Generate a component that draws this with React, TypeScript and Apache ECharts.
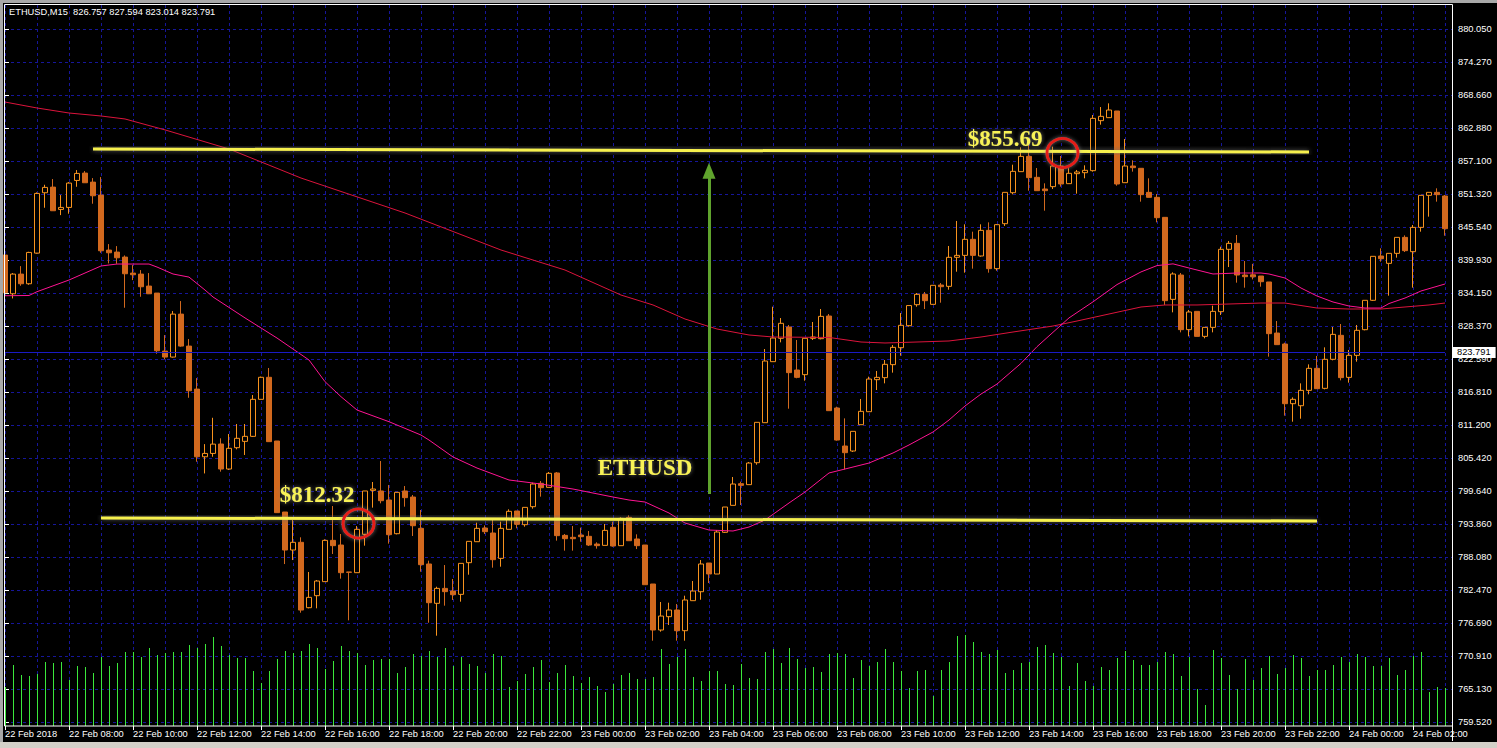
import React, { useEffect, useRef } from "react";
import * as echarts from "echarts";

// ---------- data ----------
const HEADER_TEXT = "ETHUSD,M15  826.757 827.594 823.014 823.791";
const START_TIME = Date.UTC(2018, 1, 22, 6, 0);
const BAR_MINUTES = 15;

const X_TICK_LABELS = [
  "22 Feb 2018", "22 Feb 08:00", "22 Feb 10:00", "22 Feb 12:00", "22 Feb 14:00",
  "22 Feb 16:00", "22 Feb 18:00", "22 Feb 20:00", "22 Feb 22:00", "23 Feb 00:00",
  "23 Feb 02:00", "23 Feb 04:00", "23 Feb 06:00", "23 Feb 08:00", "23 Feb 10:00",
  "23 Feb 12:00", "23 Feb 14:00", "23 Feb 16:00", "23 Feb 18:00", "23 Feb 20:00",
  "23 Feb 22:00", "24 Feb 00:00", "24 Feb 02:00",
];

// bottom to top
const Y_TICK_LABELS = [
  "759.520", "765.130", "770.910", "776.690", "782.470", "788.080", "793.860",
  "799.640", "805.420", "811.200", "816.810", "822.590", "828.370", "834.150",
  "839.930", "845.540", "851.320", "857.100", "862.880", "868.660", "874.270",
  "880.050",
];

// [open, close, low, high]
const OHLC: [number, number, number, number][] = [
  [840.73, 834.18, 833.8, 841.5], [834.0, 837.42, 833.19, 837.6], [837.42, 835.74, 835.39, 838.81],
  [835.74, 841.19, 835.57, 841.3], [841.07, 851.45, 840.96, 851.63], [851.57, 852.5, 848.96, 852.96],
  [852.55, 848.44, 848.44, 853.95], [848.67, 849.02, 847.68, 851.16], [849.02, 853.25, 847.92, 853.42],
  [853.71, 854.93, 852.61, 855.51], [854.99, 853.31, 853.31, 855.34], [853.42, 851.05, 849.66, 854.12],
  [851.16, 841.48, 841.13, 854.29], [841.6, 841.13, 839.28, 842.64], [841.25, 840.26, 839.22, 842.29],
  [840.38, 837.48, 831.57, 840.67], [837.6, 837.31, 836.38, 838.99], [837.42, 835.22, 833.48, 838.12],
  [835.34, 834.0, 833.95, 837.6], [834.12, 824.09, 823.57, 834.12], [824.03, 822.99, 822.58, 826.81],
  [822.99, 830.46, 822.9, 830.99], [830.46, 824.9, 824.78, 832.73], [824.9, 817.13, 815.91, 826.12],
  [817.42, 805.65, 804.78, 819.33], [805.65, 806.23, 802.75, 807.85], [806.23, 807.85, 805.65, 812.43],
  [807.87, 803.52, 803.06, 808.86], [803.52, 807.12, 803.35, 809.61], [807.23, 808.86, 806.94, 811.35],
  [808.33, 809.2, 805.96, 811.35], [809.2, 815.64, 809.09, 816.39], [815.64, 819.47, 815.64, 819.6],
  [819.47, 808.28, 808.28, 821.09], [808.39, 795.93, 795.93, 808.39], [796.04, 789.43, 786.99, 796.04],
  [789.43, 790.77, 787.69, 794.65], [790.77, 778.99, 778.53, 791.64], [779.4, 781.2, 779.29, 785.61],
  [781.49, 784.04, 779.29, 784.21], [783.93, 791.11, 783.93, 791.29], [791.11, 790.19, 788.74, 797.09],
  [790.3, 785.49, 784.45, 792.22], [785.61, 785.55, 777.2, 785.61], [785.49, 793.03, 785.49, 793.6],
  [792.16, 799.7, 790.19, 799.7], [799.81, 800.04, 796.8, 801.26], [799.7, 798.01, 797.55, 804.91],
  [798.13, 792.1, 790.54, 800.74], [792.27, 799.46, 792.15, 799.46], [799.7, 798.54, 796.97, 800.56],
  [798.65, 793.66, 791.87, 799.0], [793.2, 786.88, 785.66, 796.39], [787.0, 780.27, 776.79, 787.58],
  [780.16, 782.76, 774.53, 783.05], [782.76, 782.19, 779.75, 786.82], [782.3, 781.66, 780.74, 784.39],
  [781.72, 787.11, 780.45, 787.11], [787.23, 790.94, 785.14, 790.94], [790.88, 793.2, 790.88, 794.19],
  [793.26, 792.62, 792.22, 793.72], [792.39, 787.75, 786.36, 795.0], [787.98, 793.2, 786.53, 794.36],
  [793.03, 796.16, 793.03, 796.51], [796.22, 793.9, 793.2, 796.22], [793.84, 796.85, 793.49, 796.85],
  [796.97, 800.91, 796.62, 801.14], [801.03, 800.27, 798.71, 801.43], [800.33, 802.77, 800.33, 803.0],
  [802.83, 791.93, 791.06, 803.0], [791.98, 791.4, 789.32, 792.22], [791.64, 791.4, 789.32, 793.61],
  [792.04, 791.75, 790.88, 793.32], [791.81, 790.3, 790.13, 792.74], [790.47, 790.19, 789.67, 790.77],
  [790.24, 792.85, 790.24, 793.96], [793.38, 790.13, 790.01, 794.36], [790.19, 794.94, 790.19, 795.11],
  [795.11, 791.05, 791.05, 795.46], [791.35, 790.19, 789.6, 792.16], [790.3, 783.4, 783.4, 790.3],
  [783.52, 775.52, 773.66, 783.52], [775.52, 777.95, 775.23, 780.39], [777.84, 779.0, 776.39, 780.27],
  [779.0, 775.4, 773.66, 780.04], [775.4, 780.74, 773.66, 781.49], [780.62, 782.3, 780.62, 784.04],
  [782.18, 787.0, 780.79, 787.69], [787.17, 785.26, 783.69, 787.17], [785.26, 792.56, 785.26, 792.91],
  [792.51, 796.91, 792.39, 796.91], [797.2, 800.91, 797.2, 802.13], [800.97, 800.68, 797.26, 801.32],
  [800.8, 804.56, 800.8, 804.74], [804.62, 811.64, 804.27, 811.64], [811.58, 822.3, 811.58, 824.39],
  [822.19, 826.3, 822.19, 831.75], [826.25, 828.86, 825.55, 829.78], [828.22, 820.28, 814.01, 828.57],
  [820.74, 819.46, 819.3, 825.96], [819.93, 826.25, 818.88, 826.25], [826.25, 826.48, 825.96, 829.09],
  [826.19, 830.07, 826.07, 831.35], [830.13, 813.67, 813.67, 830.48], [814.13, 808.56, 808.45, 814.36],
  [807.52, 806.36, 803.46, 812.33], [806.65, 810.07, 806.48, 810.07], [811.23, 813.55, 811.23, 815.7],
  [813.49, 819.17, 813.49, 819.58], [819.06, 819.46, 817.26, 820.57], [819.41, 821.73, 818.42, 822.48],
  [821.67, 824.68, 820.28, 825.09], [824.62, 828.51, 823.23, 830.65], [828.45, 831.95, 828.28, 831.95],
  [832.1, 833.9, 831.75, 834.13], [833.9, 832.8, 831.35, 834.31], [832.16, 835.47, 832.16, 835.47],
  [835.52, 835.23, 832.45, 835.87], [835.29, 840.34, 834.71, 842.31], [840.34, 840.68, 837.84, 846.66],
  [840.68, 843.47, 837.67, 846.08], [843.47, 840.68, 838.37, 844.8], [840.57, 845.03, 840.45, 846.08],
  [845.03, 838.37, 837.67, 846.42], [838.37, 846.02, 838.02, 846.13], [846.19, 851.64, 845.79, 851.64],
  [851.58, 855.29, 851.29, 856.45], [855.24, 857.9, 855.24, 859.47], [857.9, 854.19, 851.93, 860.45],
  [854.25, 851.93, 851.93, 855.87], [852.22, 851.93, 848.45, 853.21], [852.63, 856.22, 852.22, 859.58],
  [856.22, 853.09, 852.63, 857.96], [853.15, 854.95, 853.15, 855.82], [854.89, 855.18, 851.41, 855.53],
  [855.06, 855.47, 854.08, 856.34], [855.41, 864.51, 855.24, 865.09], [864.11, 864.86, 863.41, 866.48],
  [864.63, 865.96, 864.63, 867.12], [865.79, 853.09, 852.8, 865.79], [853.32, 856.22, 853.32, 860.92],
  [856.22, 855.93, 855.24, 857.21], [855.82, 851.24, 850.02, 855.82], [851.64, 850.77, 850.77, 854.08],
  [850.77, 847.23, 846.42, 851.35], [847.29, 832.8, 832.05, 847.29], [833.03, 837.44, 830.77, 837.73],
  [837.26, 827.76, 827.29, 837.61], [827.76, 830.83, 826.59, 831.18], [830.94, 826.59, 826.59, 830.94],
  [826.59, 828.16, 826.25, 828.16], [828.16, 830.94, 827.29, 831.93], [830.89, 841.73, 830.31, 842.19],
  [841.73, 842.77, 838.65, 843.18], [842.77, 837.26, 835.93, 844.22], [837.26, 836.97, 835.06, 839.7],
  [837.3, 836.95, 836.5, 839.2], [837.09, 836.1, 835.23, 837.09], [836.05, 827.06, 823.06, 836.05],
  [827.17, 825.15, 825.15, 829.26], [825.26, 814.88, 812.8, 825.49], [814.88, 815.64, 811.75, 815.98],
  [814.53, 817.2, 812.27, 818.42], [817.2, 821.03, 816.51, 821.72], [821.03, 817.49, 817.49, 823.18],
  [817.55, 822.6, 817.38, 824.68], [822.6, 826.94, 822.42, 828.22], [826.77, 819.41, 818.94, 828.74],
  [819.46, 823.29, 818.54, 824.22], [823.29, 827.64, 822.19, 828.57], [827.75, 832.86, 827.64, 832.86],
  [832.86, 840.51, 832.74, 840.51], [840.57, 840.1, 839.58, 841.9], [839.29, 841.03, 833.67, 841.03],
  [841.03, 843.81, 840.28, 843.81], [843.81, 841.5, 841.26, 844.16], [841.32, 845.55, 835.06, 845.96],
  [845.55, 851.12, 844.8, 851.12], [851.12, 851.64, 847.41, 851.64], [851.64, 851.24, 850.02, 852.34],
  [851.0, 845.32, 844.1, 851.18],
];

const VOLUME = [
  390, 610, 510, 500, 520, 640, 630, 640, 460, 600, 590, 530, 690, 600, 630, 740, 740, 690, 780, 710,
  730, 740, 740, 810, 780, 820, 890, 800, 710, 680, 680, 550, 430, 550, 670, 750, 730, 750, 820, 780,
  570, 650, 800, 750, 730, 610, 660, 670, 670, 530, 590, 720, 700, 750, 690, 780, 600, 690, 620, 600,
  530, 720, 700, 390, 450, 520, 590, 660, 440, 530, 610, 500, 430, 490, 400, 340, 420, 510, 530, 470,
  470, 490, 770, 620, 690, 770, 490, 450, 550, 550, 420, 410, 620, 480, 470, 740, 770, 630, 780, 670,
  580, 590, 540, 720, 730, 720, 480, 660, 600, 640, 770, 640, 550, 380, 550, 560, 300, 560, 640, 900,
  910, 840, 740, 720, 760, 530, 560, 630, 640, 790, 810, 730, 690, 400, 630, 450, 400, 590, 560, 680,
  750, 660, 610, 610, 640, 740, 720, 500, 690, 370, 210, 760, 680, 510, 370, 670, 460, 580, 700, 520,
  580, 710, 680, 500, 560, 560, 610, 690, 640, 720, 690, 600, 600, 680, 510, 560, 700, 740, 340, 390,
  380,
];

// moving averages: [bar index, value]
const MA_FAST: [number, number][] = [
  [0, 833.66], [3, 833.7], [4, 834.36], [8, 836.39], [12, 838.83], [14, 839.17], [18, 839.17],
  [19, 838.65], [21, 837.44], [23, 836.9], [25, 834.65], [26, 833.44], [30, 829.8], [34, 826.3],
  [38, 822.48], [40, 818.71], [42, 816.1], [44, 813.78], [48, 811.75], [52, 809.43], [53, 808.56],
  [56, 805.61], [59, 803.69], [63, 801.61], [67, 800.91], [71, 800.04], [76, 798.65], [78, 798.13],
  [80, 797.78], [83, 795.87], [85, 794.13], [88, 792.91], [91, 792.74], [93, 793.43], [95, 794.65],
  [98, 797.61], [100, 799.52], [103, 802.83], [105, 803.52], [108, 804.56], [111, 806.31],
  [113, 807.7], [116, 809.96], [118, 812.04], [120, 814.48], [122, 816.56], [124, 818.3],
  [125, 819.5], [127, 821.9], [129, 824.8], [131, 827.3], [133, 829.8], [136, 832.6], [139, 835.6],
  [142, 837.8], [144, 838.9], [146, 839.2], [148, 838.48], [151, 837.44], [154, 837.61],
  [157, 837.61], [158, 837.44], [160, 836.74], [162, 835.0], [164, 833.61], [166, 832.57],
  [168, 831.87], [170, 831.52], [172, 831.52], [173, 832.3], [175, 833.26], [177, 834.48],
  [180, 835.7],
];

const MA_SLOW: [number, number][] = [
  [0, 867.35], [4, 866.31], [8, 865.44], [12, 864.92], [15, 864.4], [20, 862.5], [28, 859.18],
  [37, 854.13], [50, 848.05], [62, 841.61], [70, 838.13], [77, 833.78], [81, 832.05], [85, 829.61],
  [89, 827.87], [93, 826.83], [96, 826.48], [103, 826.4], [107, 825.61], [110, 825.44],
  [114, 825.61], [118, 825.79], [122, 826.48], [126, 827.35], [131, 828.39], [134, 829.26],
  [138, 830.48], [142, 831.7], [145, 832.05], [149, 832.05], [153, 832.22], [157, 832.39],
  [160, 832.39], [164, 831.52], [168, 831.35], [172, 831.35], [175, 831.7], [178, 832.05],
  [180, 832.39],
];

const CURRENT_PRICE = 823.791;

// hand-drawn annotations (bar index, price)
const RESISTANCE_LINE: [[number, number], [number, number]] = [[11, 859.18], [163, 858.66]];
const SUPPORT_LINE: [[number, number], [number, number]] = [[12, 795.0], [164, 794.48]];
const ARROW_LINE: [[number, number], [number, number]] = [[88, 799.17], [88, 855.4]];
const TEXT_NOTES: { text: string; at: [number, number] }[] = [
  { text: "$855.69", at: [125, 861.09] },
  { text: "$812.32", at: [39, 799.09] },
  { text: "ETHUSD", at: [80, 803.87] },
];
const CIRCLE_NOTES: [number, number][] = [[44, 794.04], [132, 858.48]];

// price axis extent of the plot frame
const PRICE_AXIS_MIN = 758.824;
const PRICE_AXIS_MAX = 884.224;
const VOLUME_AXIS_MAX = 1000;

const CATEGORIES = OHLC.map((_, i) => {
  const d = new Date(START_TIME + i * BAR_MINUTES * 60000);
  const p = (n: number) => String(n).padStart(2, "0");
  return `${d.getUTCFullYear()}.${p(d.getUTCMonth() + 1)}.${p(d.getUTCDate())} ${p(d.getUTCHours())}:${p(d.getUTCMinutes())}`;
});

// ---------- styles ----------
const FONT = "Liberation Sans";
const GRID_COLOR = "#16169a";
const BULL = "#F7931E";
const BEAR = "#D2691E";
const YELLOW = "#f6f04e";
const NOTE_YELLOW = "#f8f257";
const GREEN_ARROW = "#5fa32d";
const CIRCLE_RED = "#e51a16";
const VOLUME_GREEN = "#3be83b";

export default function App() {
  const ref = useRef<HTMLDivElement>(null);

  useEffect(() => {
    document.body.style.margin = "0";
    if (!ref.current) return;
    const chart = echarts.init(ref.current, undefined, { renderer: "svg" });

    const yellowLine = {
      color: YELLOW,
      width: 3,
      type: "solid",
      shadowBlur: 5,
      shadowColor: "rgba(110,110,110,0.9)",
    };

    const option: any = {
      animation: false,
      backgroundColor: "#000000",
      textStyle: { fontFamily: FONT },
      grid: [
        { left: 5, right: 52, top: 5, bottom: 22 },
        { left: 5.5, right: 51.5, top: 626, bottom: 22 },
        { left: 5, right: 45, top: 29, bottom: 26 },
      ],
      xAxis: [
        {
          type: "category",
          gridIndex: 0,
          data: CATEGORIES,
          boundaryGap: false,
          axisLine: { show: false },
          axisTick: {
            show: true,
            interval: (i: number) => i % 8 === 0,
            length: 4,
            lineStyle: { color: "#ffffff" },
          },
          axisLabel: {
            interval: (i: number) => i % 8 === 0,
            formatter: (_v: string, i: number) => X_TICK_LABELS[Math.round(i / 8)] ?? "",
            align: "left",
            color: "#ffffff",
            fontSize: 9.3,
            fontFamily: FONT,
            margin: 3,
          },
          splitLine: {
            show: true,
            interval: (i: number) => i % 4 === 0,
            lineStyle: { color: GRID_COLOR, type: [3, 3], width: 1 },
          },
        },
        { type: "category", gridIndex: 1, data: CATEGORIES, boundaryGap: false, show: false },
        { type: "value", gridIndex: 2, min: 0, max: 1, show: false },
      ],
      yAxis: [
        { type: "value", gridIndex: 0, min: PRICE_AXIS_MIN, max: PRICE_AXIS_MAX, show: false },
        { type: "value", gridIndex: 1, min: 0, max: VOLUME_AXIS_MAX, show: false },
        {
          type: "category",
          gridIndex: 2,
          data: Y_TICK_LABELS,
          boundaryGap: false,
          position: "right",
          axisLine: { show: false },
          axisTick: { show: true, interval: 0, length: 4, lineStyle: { color: "#ffffff" } },
          axisLabel: { interval: 0, color: "#ffffff", fontSize: 9.3, fontFamily: FONT, margin: 6 },
          splitLine: {
            show: true,
            interval: 0,
            lineStyle: { color: GRID_COLOR, type: [3, 3], width: 1 },
          },
        },
      ],
      series: [
        {
          name: "Volume",
          type: "bar",
          xAxisIndex: 1,
          yAxisIndex: 1,
          data: VOLUME,
          barWidth: 1,
          itemStyle: { color: VOLUME_GREEN },
          z: 1,
          silent: true,
        },
        {
          name: "ETHUSD",
          type: "candlestick",
          xAxisIndex: 0,
          yAxisIndex: 0,
          data: OHLC,
          barWidth: 5,
          clip: false,
          z: 2,
          itemStyle: {
            color: "#000000",
            color0: BEAR,
            borderColor: BULL,
            borderColor0: BEAR,
            borderWidth: 1,
          },
          markLine: {
            silent: true,
            symbol: "none",
            z: 5,
            label: { show: false },
            emphasis: { disabled: true },
            data: [
              {
                yAxis: CURRENT_PRICE,
                lineStyle: { color: "#1a1ac4", width: 1, type: "solid" },
                label: {
                  show: true,
                  position: "end",
                  distance: 8,
                  formatter: CURRENT_PRICE.toFixed(3),
                  backgroundColor: "#ffffff",
                  color: "#000000",
                  fontSize: 9.3,
                  fontFamily: FONT,
                  padding: [1, 5, 1, 4],
                },
              },
              [
                { coord: RESISTANCE_LINE[0], lineStyle: yellowLine },
                { coord: RESISTANCE_LINE[1] },
              ],
              [
                { coord: SUPPORT_LINE[0], lineStyle: yellowLine },
                { coord: SUPPORT_LINE[1] },
              ],
              [
                {
                  coord: ARROW_LINE[0],
                  symbol: "none",
                  lineStyle: { color: GREEN_ARROW, width: 3, type: "solid" },
                },
                { coord: ARROW_LINE[1], symbol: "triangle", symbolSize: [13, 16] },
              ],
            ],
          },
          markPoint: {
            silent: true,
            z: 6,
            data: [
              ...TEXT_NOTES.map((n) => ({
                coord: n.at,
                symbol: "rect",
                symbolSize: 1,
                itemStyle: { color: "rgba(0,0,0,0)" },
                label: {
                  show: true,
                  position: "inside",
                  formatter: n.text,
                  color: NOTE_YELLOW,
                  fontFamily: "Liberation Serif",
                  fontWeight: "bold",
                  fontSize: 23,
                  textShadowBlur: 4,
                  textShadowColor: "rgba(120,120,120,0.9)",
                },
              })),
              ...CIRCLE_NOTES.map((c) => ({
                coord: c,
                symbol: "circle",
                symbolSize: [31, 29],
                symbolOffset: [1.5, 0],
                itemStyle: {
                  color: "rgba(0,0,0,0)",
                  borderColor: CIRCLE_RED,
                  borderWidth: 3,
                  shadowBlur: 4,
                  shadowColor: "rgba(160,160,160,0.7)",
                },
                label: { show: false },
              })),
            ],
          },
        },
        {
          name: "MA slow",
          type: "line",
          xAxisIndex: 0,
          yAxisIndex: 0,
          data: MA_SLOW,
          showSymbol: false,
          silent: true,
          z: 3,
          lineStyle: { color: "#dc143c", width: 1 },
        },
        {
          name: "MA fast",
          type: "line",
          xAxisIndex: 0,
          yAxisIndex: 0,
          data: MA_FAST,
          showSymbol: false,
          silent: true,
          z: 3,
          lineStyle: { color: "#ff1493", width: 1 },
        },
      ],
      graphic: [
        {
          type: "rect",
          z: 100,
          silent: true,
          shape: { x: 4.5, y: 4.5, width: 1448, height: 721.5 },
          style: { fill: "none", stroke: "#ffffff", lineWidth: 1 },
        },
        {
          type: "line",
          z: 100,
          silent: true,
          shape: { x1: 1452.5, y1: 726, x2: 1452.5, y2: 741 },
          style: { stroke: "#ffffff", lineWidth: 1 },
        },
        { type: "rect", z: 99, silent: true, shape: { x: 0, y: 0, width: 3, height: 748 }, style: { fill: "#a8a8a8" } },
        { type: "rect", z: 99, silent: true, shape: { x: 0, y: 0, width: 1497, height: 3 }, style: { fill: "#a8a8a8" } },
        { type: "rect", z: 99, silent: true, shape: { x: 0, y: 742, width: 1497, height: 6 }, style: { fill: "#d4d0c8" } },
        {
          type: "text",
          z: 100,
          silent: true,
          left: 9,
          top: 7,
          style: {
            text: HEADER_TEXT,
            fill: "#ffffff",
            font: `9.3px "${FONT}"`,
          },
        },
      ],
    };

    chart.setOption(option);
    return () => chart.dispose();
  }, []);

  return <div ref={ref} style={{ width: 1497, height: 748 }} />;
}
